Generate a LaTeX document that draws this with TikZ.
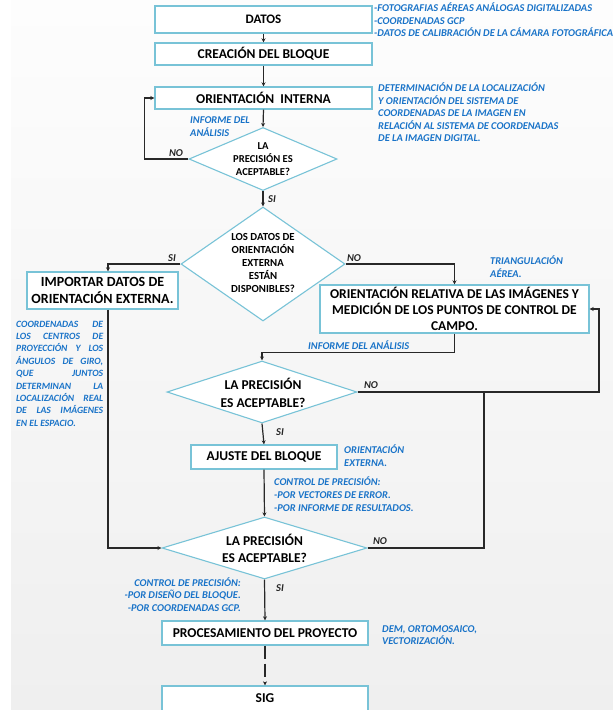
\documentclass[tikz,border=0pt]{standalone}
\usepackage{fontspec}
\setmainfont{Carlito}
\usetikzlibrary{arrows.meta,shapes.geometric}
\definecolor{bgtop}{RGB}{253,253,253}
\definecolor{bgbot}{RGB}{239,239,239}
\definecolor{boxline}{RGB}{120,195,215}
\definecolor{noteblue}{RGB}{25,115,200}
\definecolor{lineclr}{RGB}{40,40,40}
\tikzset{
  box/.style={draw=boxline, line width=1.4pt, fill=white, inner sep=0pt, align=center},
  dia/.style={draw=boxline, line width=1.1pt, fill=white, shape=diamond, inner sep=0pt},
  diatext/.style={inner sep=0pt, align=center},
  note/.style={text=noteblue, inner sep=0pt, align=left, font=\fontsize{10.4}{12.5}\selectfont\bfseries\itshape},
  lab/.style={text=black!85, inner sep=0pt, font=\fontsize{10.5}{12}\selectfont\bfseries\itshape},
  conn/.style={draw=lineclr, line width=1.2pt},
  arr/.style={conn, -{Stealth[length=4pt,width=4pt]}},
}
\begin{document}
\begin{tikzpicture}[x=1pt,y=-1pt]
\useasboundingbox (0,0) rectangle (613,710);
\fill[white] (0,0) rectangle (613,710);
\shade[top color=bgtop, bottom color=bgbot] (11,0) rectangle (613,710);

% boxes
\node[box, minimum width=217, minimum height=27, font=\fontsize{13}{15}\selectfont\bfseries] (datos) at (263.5,19.5) {DATOS};
\node[box, minimum width=217, minimum height=22, font=\fontsize{13.5}{15}\selectfont\bfseries] (crea) at (263.5,54) {CREACIÓN DEL BLOQUE};
\node[box, minimum width=217, minimum height=22, font=\fontsize{13.5}{15}\selectfont\bfseries] (oi) at (263.5,98) {ORIENTACIÓN\ \ INTERNA};
\node[box, minimum width=151, minimum height=37, font=\fontsize{14}{17}\selectfont\bfseries] (imp) at (102.5,290.5) {IMPORTAR DATOS DE\\ORIENTACIÓN EXTERNA.};
\node[box, minimum width=269, minimum height=48, font=\fontsize{13.5}{16}\selectfont\bfseries] (rel) at (454.5,309) {ORIENTACIÓN RELATIVA DE LAS IMÁGENES Y\\MEDICIÓN DE LOS PUNTOS DE CONTROL DE\\CAMPO.};
\node[box, minimum width=146, minimum height=24, font=\fontsize{13.5}{16}\selectfont\bfseries] (aj) at (264,457) {AJUSTE DEL BLOQUE};
\node[box, minimum width=206, minimum height=24, font=\fontsize{13.5}{16}\selectfont\bfseries] (proc) at (265,633) {PROCESAMIENTO DEL PROYECTO};
\node[box, minimum width=206, minimum height=30, font=\fontsize{13.5}{16}\selectfont\bfseries] (sig) at (265,701) {};
\node[inner sep=0pt, font=\fontsize{13.5}{16}\selectfont\bfseries] (sigt) at (265,698) {SIG};

% diamonds
\node[dia, minimum width=148, minimum height=63] (d1) at (263,159) {};
\node[diatext, font=\fontsize{10.6}{13}\selectfont\bfseries] (d1t) at (263,159) {LA\\PRECISIÓN ES\\ACEPTABLE?};
\node[dia, minimum width=164, minimum height=114] (d2) at (263,264) {};
\node[diatext, font=\fontsize{10.8}{13}\selectfont\bfseries] (d2t) at (263,263) {LOS DATOS DE\\ORIENTACIÓN\\EXTERNA\\ESTÁN\\DISPONIBLES?};
\node[dia, minimum width=190, minimum height=62] (d3) at (262,392) {};
\node[diatext, font=\fontsize{13.5}{18}\selectfont\bfseries] (d3t) at (263,393) {LA PRECISIÓN\\ES ACEPTABLE?};
\node[dia, minimum width=205, minimum height=62] (d4) at (264.5,548) {};
\node[diatext, font=\fontsize{13.5}{17}\selectfont\bfseries] (d4t) at (264.5,548.5) {LA PRECISIÓN\\ES ACEPTABLE?};

% loop coordinates
\coordinate (jn) at (484,392);
\coordinate (rloop) at (599,392);

% connectors
\draw[arr] (datos.south) -- (crea.north);
\draw[arr] (crea.south) -- (oi.north);
\draw[arr] (oi.south) -- (d1.north);
\draw[arr] (d1.west) -- ++(-44,0) |- (oi.west);
\draw[arr] (d1.south) -- (d2.north);
\draw[arr] (d2.west) -| ([xshift=5.5pt]imp.north);
\draw[arr] (d2.east) -| (rel.north);
\draw[arr] (rel.south) -- ++(0,19) -| (d3.north);
\draw[arr] (d3.south) -- (aj.north);
\draw[arr] (d3.east) -- (rloop) |- (rel.east);
\draw[arr] (aj.south) -- (d4.north);
\draw[arr] ([xshift=5.5pt]imp.south) |- (d4.west);
\draw[conn] (d4.east) -| (jn);
\draw[arr] (d4.south) -- (proc.north);
\draw[arr, line width=2pt, dash pattern=on 13pt off 5pt] (proc.south) -- (sig.north);

% yes/no labels
\node[lab] (no1) at (176,153) {NO};
\node[lab] (si1) at (272,199) {SI};
\node[lab] (si2) at (172,258) {SI};
\node[lab] (no2) at (354,258) {NO};
\node[lab] (no3) at (371,385) {NO};
\node[lab] (si3) at (280,432) {SI};
\node[lab] (no4) at (380,541) {NO};
\node[lab] (si4) at (280,588) {SI};

% blue notes (base anchor = baseline of last line)
\node[note, anchor=base west] (n1) at (374,36.5) {-FOTOGRAFIAS AÉREAS ANÁLOGAS DIGITALIZADAS\\-COORDENADAS GCP\\-DATOS DE CALIBRACIÓN DE LA CÁMARA FOTOGRÁFICA};
\node[note, anchor=base west] (n2) at (378,141.5) {DETERMINACIÓN DE LA LOCALIZACIÓN\\Y ORIENTACIÓN DEL SISTEMA DE\\COORDENADAS DE LA IMAGEN EN\\RELACIÓN AL SISTEMA DE COORDENADAS\\DE LA IMAGEN DIGITAL.};
\node[note, anchor=base west, font=\fontsize{10.4}{13}\selectfont\bfseries\itshape] (n3) at (190,136) {INFORME DEL\\ANÁLISIS};
\node[note, anchor=base west, font=\fontsize{10.4}{13}\selectfont\bfseries\itshape] (n4) at (490,277) {TRIANGULACIÓN\\AÉREA.};
\node[note, anchor=base west, text width=87pt, align=justify, font=\fontsize{9.6}{12.4}\selectfont\bfseries\itshape] (n5) at (16,327) {COORDENADAS DE\linebreak LOS CENTROS DE\linebreak PROYECCIÓN Y LOS\linebreak ÁNGULOS DE GIRO,\linebreak QUE JUNTOS\linebreak DETERMINAN LA\linebreak LOCALIZACIÓN REAL\linebreak DE LAS IMÁGENES\linebreak EN EL ESPACIO.};
\node[note, anchor=base west] (n6) at (308,349) {INFORME DEL ANÁLISIS};
\node[note, anchor=base west, font=\fontsize{10.4}{13.5}\selectfont\bfseries\itshape] (n7) at (344,466.5) {ORIENTACIÓN\\EXTERNA.};
\node[note, anchor=base west, font=\fontsize{10.4}{12.8}\selectfont\bfseries\itshape] (n8) at (274,511) {CONTROL DE PRECISIÓN:\\-POR VECTORES DE ERROR.\\-POR INFORME DE RESULTADOS.};
\node[note, anchor=base east, align=right, font=\fontsize{10.4}{12.6}\selectfont\bfseries\itshape] (n9) at (241,611.2) {CONTROL DE PRECISIÓN:\\-POR DISEÑO DEL BLOQUE.\\-POR COORDENADAS GCP.\ };
\node[note, anchor=base west] (n10) at (382,644.5) {DEM, ORTOMOSAICO,\\VECTORIZACIÓN.};
\end{tikzpicture}
\end{document}
